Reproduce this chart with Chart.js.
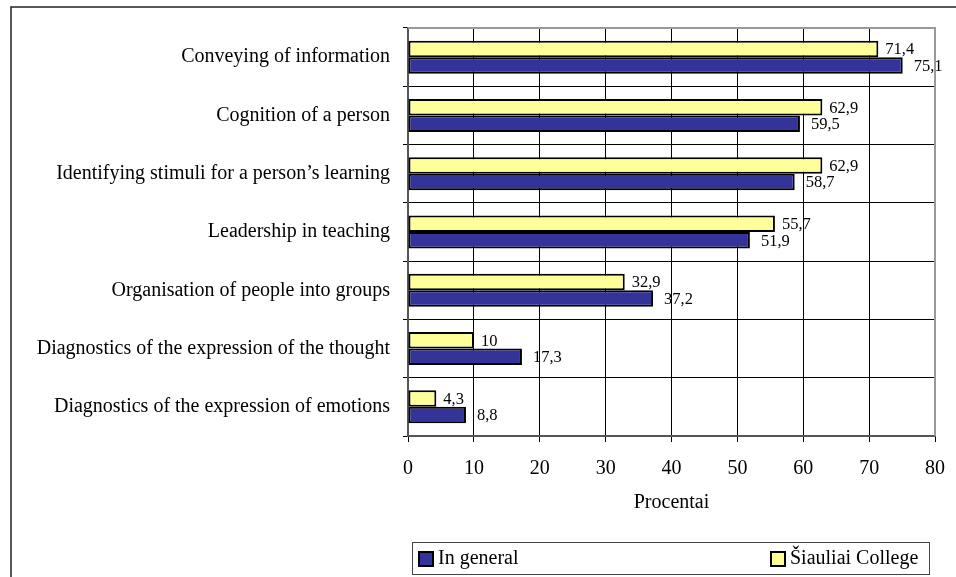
<!DOCTYPE html>
<html>
<head>
<meta charset="utf-8">
<script src="https://cdn.jsdelivr.net/npm/chart.js@4.4.1/dist/chart.umd.min.js"></script>
<style>
    html, body { margin: 0; padding: 0; background: #fff; }
    #wrap { width: 956px; height: 577px; }
</style>
</head>
<body>
<div id="wrap"><canvas id="skillsChart" width="956" height="577"></canvas></div>
<script>
const categories = [
    'Conveying of information',
    'Cognition of a person',
    'Identifying stimuli for a person\u2019s learning',
    'Leadership in teaching',
    'Organisation of people into groups',
    'Diagnostics of the expression of the thought',
    'Diagnostics of the expression of emotions'
];
const siauliaiCollege = [71.4, 62.9, 62.9, 55.7, 32.9, 10, 4.3];
const inGeneral = [75.1, 59.5, 58.7, 51.9, 37.2, 17.3, 8.8];
const xTicks = [0, 10, 20, 30, 40, 50, 60, 70, 80];

const FONT = '"Liberation Serif", "Times New Roman", serif';
const BLUE = '#333399';
const YELLOW = '#FFFF99';

// value labels next to each bar, with a comma as decimal mark
const valueLabels = {
    id: 'valueLabels',
    afterDatasetsDraw(chart) {
        const ctx = chart.ctx;
        ctx.save();
        ctx.font = '16.5px ' + FONT;
        ctx.fillStyle = '#000';
        ctx.textAlign = 'left';
        ctx.textBaseline = 'middle';
        chart.data.datasets.forEach((ds, i) => {
            const meta = chart.getDatasetMeta(i);
            const gap = i === 0 ? 7 : 11;
            meta.data.forEach((bar, j) => {
                const txt = String(ds.data[j]).replace('.', ',');
                ctx.fillText(txt, bar.x + gap, bar.y + 1);
            });
        });
        ctx.restore();
    }
};

// outer frame, grey plot border and the legend box
const frameAndLegend = {
    id: 'frameAndLegend',
    afterDraw(chart) {
        const ctx = chart.ctx;
        const area = chart.chartArea;
        ctx.save();
        ctx.strokeStyle = '#222';
        ctx.lineWidth = 1.5;
        ctx.beginPath();
        ctx.moveTo(11, 600);
        ctx.lineTo(11, 7);
        ctx.lineTo(980, 7);
        ctx.stroke();

        ctx.strokeStyle = '#999';
        ctx.lineWidth = 2;
        ctx.beginPath();
        ctx.moveTo(area.left, area.top);
        ctx.lineTo(area.right, area.top);
        ctx.lineTo(area.right, area.bottom);
        ctx.stroke();

        // legend
        ctx.strokeStyle = '#444';
        ctx.lineWidth = 1;
        ctx.strokeRect(412.5, 542.5, 517, 32);
        const items = [
            { text: 'In general', color: BLUE, x: 419 },
            { text: '\u0160iauliai College', color: YELLOW, x: 771 }
        ];
        ctx.font = '20px ' + FONT;
        ctx.textBaseline = 'middle';
        ctx.textAlign = 'left';
        items.forEach(it => {
            ctx.fillStyle = it.color;
            ctx.fillRect(it.x, 552, 14, 14);
            ctx.strokeStyle = '#000';
            ctx.lineWidth = 2;
            ctx.strokeRect(it.x, 552, 14, 14);
            ctx.fillStyle = '#000';
            ctx.fillText(it.text, it.x + 19, 559);
        });
        ctx.restore();
    }
};

const ctx = document.getElementById('skillsChart').getContext('2d');
const myChart = new Chart(ctx, {
    type: 'bar',
    data: {
        labels: categories,
        datasets: [
            {
                label: '\u0160iauliai College',
                data: siauliaiCollege,
                backgroundColor: YELLOW,
                borderColor: '#000',
                borderWidth: 2,
                borderSkipped: false,
                categoryPercentage: 0.566,
                barPercentage: 1.0
            },
            {
                label: 'In general',
                data: inGeneral,
                backgroundColor: BLUE,
                borderColor: '#000',
                borderWidth: 2,
                borderSkipped: false,
                categoryPercentage: 0.566,
                barPercentage: 1.0
            }
        ]
    },
    options: {
        indexAxis: 'y',
        responsive: false,
        animation: false,
        layout: {
            padding: { top: 28, right: 21, bottom: 60, left: 0 }
        },
        plugins: {
            legend: { display: false },
            tooltip: { enabled: false }
        },
        scales: {
            x: {
                min: 0,
                max: 80,
                afterBuildTicks: scale => {
                    scale.ticks = xTicks.map(v => ({ value: v }));
                },
                afterFit: scale => {
                    scale.height = 81;
                    scale.paddingRight = 0;
                    scale.paddingLeft = 0;
                },
                ticks: {
                    color: '#000',
                    padding: 15,
                    font: { family: FONT, size: 20 }
                },
                grid: {
                    color: '#000',
                    lineWidth: 1,
                    tickLength: 6
                },
                border: { color: '#555', width: 2 },
                title: {
                    display: true,
                    text: 'Procentai',
                    color: '#000',
                    padding: { top: 4, bottom: 2 },
                    font: { family: FONT, size: 20 }
                }
            },
            y: {
                afterFit: scale => {
                    scale.width = 408;
                    scale.paddingTop = 0;
                    scale.paddingBottom = 0;
                },
                ticks: {
                    color: '#000',
                    padding: 13,
                    font: { family: FONT, size: 20 }
                },
                grid: {
                    color: '#000',
                    lineWidth: 1,
                    tickLength: 5
                },
                border: { color: '#555', width: 2 }
            }
        }
    },
    plugins: [valueLabels, frameAndLegend]
});
</script>
</body>
</html>
